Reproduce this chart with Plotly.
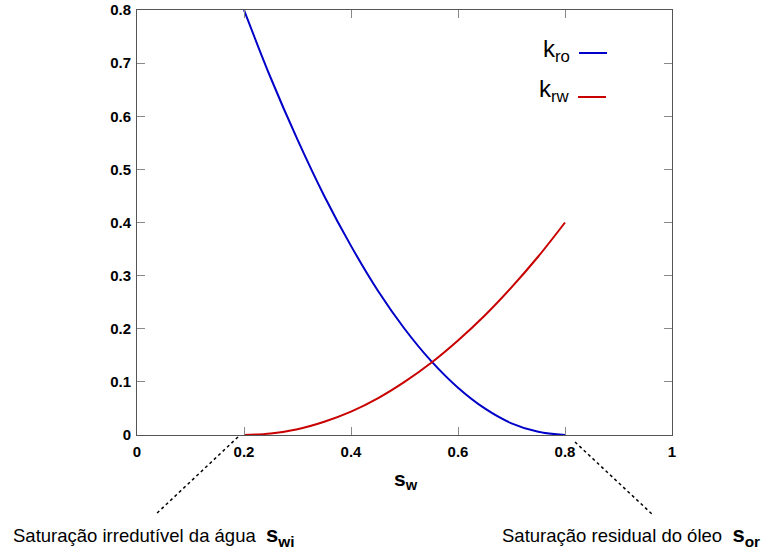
import plotly.graph_objects as go

sw = [0.20, 0.25, 0.30, 0.35, 0.40, 0.45, 0.50, 0.55, 0.60, 0.65, 0.70, 0.75, 0.80]
kro = [0.800, 0.672, 0.556, 0.450, 0.356, 0.272, 0.200, 0.139, 0.089, 0.050, 0.022, 0.006, 0.000]
krw = [0.000, 0.003, 0.011, 0.025, 0.044, 0.069, 0.100, 0.136, 0.178, 0.225, 0.278, 0.336, 0.400]

x_ticks = [0, 0.2, 0.4, 0.6, 0.8, 1]
x_labels = ["0", "0.2", "0.4", "0.6", "0.8", "1"]
y_ticks = [0, 0.1, 0.2, 0.3, 0.4, 0.5, 0.6, 0.7, 0.8]
y_labels = ["0", "0.1", "0.2", "0.3", "0.4", "0.5", "0.6", "0.7", "0.8"]

blue = "#0000C8"
red = "#C80000"
font = "Liberation Sans"

L, R, T, B = 137, 672, 10, 435
W, H = 768, 556


def px(x):
    return (x - L) / (R - L)


def py(y):
    return (B - y) / (B - T)


fig = go.Figure()
fig.add_trace(go.Scatter(x=sw, y=kro, mode="lines", line=dict(color=blue, width=2, shape="spline"), showlegend=False))
fig.add_trace(go.Scatter(x=sw, y=krw, mode="lines", line=dict(color=red, width=2, shape="spline"), showlegend=False))

axis_common = dict(showline=True, linecolor="#555555", linewidth=1, mirror="ticks", ticks="inside",
                   ticklen=8, tickcolor="#888888", showgrid=False, zeroline=False, automargin=False,
                   tickfont=dict(family=font, size=15, color="black", weight="bold"))
fig.update_xaxes(range=[0, 1], tickvals=x_ticks, ticktext=x_labels, ticklabelstandoff=3, **axis_common)
fig.update_yaxes(range=[0, 0.8], tickvals=y_ticks, ticktext=y_labels, ticklabelstandoff=2, **axis_common)

# x-axis title
fig.add_annotation(xref="paper", yref="paper", x=px(406), y=py(480), text="<b>s<sub>w</sub></b>", showarrow=False,
                   font=dict(family=font, size=21, color="black"), xanchor="center", yanchor="middle")

# legend (text then line)
fig.add_annotation(xref="paper", yref="paper", x=px(572), y=py(50), text="k<sub>ro</sub>", showarrow=False,
                   font=dict(family=font, size=24, color="black"), xanchor="right", yanchor="middle")
fig.add_annotation(xref="paper", yref="paper", x=px(572), y=py(90), text="k<sub>rw</sub>", showarrow=False,
                   font=dict(family=font, size=24, color="black"), xanchor="right", yanchor="middle")
fig.add_shape(type="line", xref="paper", yref="paper", x0=px(579), x1=px(607),
              y0=py(53), y1=py(53), line=dict(color=blue, width=2))
fig.add_shape(type="line", xref="paper", yref="paper", x0=px(578), x1=px(606),
              y0=py(97), y1=py(97), line=dict(color=red, width=2))

# dotted leaders
fig.add_shape(type="line", xref="paper", yref="paper", x0=px(238), y0=py(437),
              x1=px(155), y1=py(515), line=dict(color="black", width=1.5, dash="dot"))
fig.add_shape(type="line", xref="paper", yref="paper", x0=px(575), y0=py(442),
              x1=px(653), y1=py(515), line=dict(color="black", width=1.5, dash="dot"))

# bottom labels
fig.add_annotation(xref="paper", yref="paper", x=px(11), y=py(536),
                   text="Saturação irredutível da água  <b><span style='font-size:22px'>s<sub>wi</sub></span></b>",
                   showarrow=False, font=dict(family=font, size=18.5, color="black"),
                   xanchor="left", yanchor="middle")
fig.add_annotation(xref="paper", yref="paper", x=px(500), y=py(536),
                   text="Saturação residual do óleo  <b><span style='font-size:22px'>s<sub>or</sub></span></b>",
                   showarrow=False, font=dict(family=font, size=18.5, color="black"),
                   xanchor="left", yanchor="middle")

fig.update_layout(width=W, height=H, margin=dict(l=L, r=W - R, t=T, b=H - B, autoexpand=False),
                  plot_bgcolor="white", paper_bgcolor="white", showlegend=False)

fig.write_html("out.html", config={"displayModeBar": False},
               post_script="document.body.style.margin='0px';document.body.style.overflow='hidden';")
